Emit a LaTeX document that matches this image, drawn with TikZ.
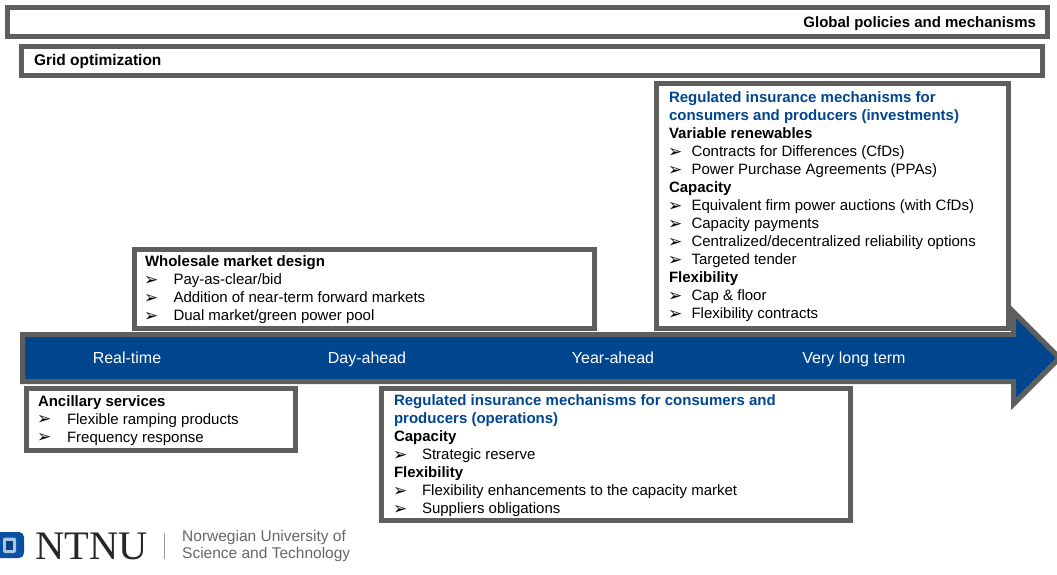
\documentclass[tikz,border=0pt]{standalone}
\usepackage{fontspec}
\setmainfont{Liberation Sans}
\newfontfamily\symf{DejaVu Sans}
\newfontfamily\serf{Liberation Serif}
\definecolor{ntblue}{HTML}{00468F}
\definecolor{ntgray}{HTML}{5E5E5E}
\definecolor{logoblue}{HTML}{0B4FA2}
\definecolor{logoring}{HTML}{A5C6E6}
\newcommand{\bul}[2][22.5]{\makebox[#1pt][l]{\hspace*{-1pt}\raisebox{-0.5pt}{\symf\fontsize{17}{18}\selectfont ➢}}#2}
\newcommand{\hd}[1]{\textbf{#1}}
\newcommand{\bl}[1]{\textcolor{ntblue}{\textbf{#1}}}
\tikzset{
  panel/.style={draw=ntgray,line width=5pt,fill=white,rectangle,inner sep=0pt,outer sep=0pt},
  body/.style={align=left,anchor=north west,inner sep=0pt,outer sep=0pt,font=\fontsize{15}{18}\selectfont},
  bar/.style={inner sep=0pt,outer sep=0pt,text height=11pt,text depth=3pt,font=\fontsize{15}{18}\selectfont\bfseries},
  tick/.style={text=white,inner sep=0pt,text height=11.5pt,text depth=3.5pt,font=\fontsize{16}{18}\selectfont},
}
\begin{document}
\begin{tikzpicture}[x=1pt,y=-1pt]
\useasboundingbox (0,0) rectangle (1057,574);
% top bars
\node[panel,minimum width=1040pt,minimum height=29pt] (global) at (527,22) {};
\node[bar,anchor=east] (globaltxt) at (1036,23.5) {Global policies and mechanisms};
\node[panel,minimum width=1021pt,minimum height=29pt] (grid) at (532,60.5) {};
\node[bar,anchor=west,font=\fontsize{15.5}{18}\selectfont\bfseries] (gridtxt) at (34,61) {Grid optimization};
% timeline arrow
\draw[draw=ntgray,line width=5pt,fill=ntblue,miter limit=10]
  (22.5,334.5) -- (1013.5,334.5) -- (1013.5,312) -- (1059.5,358) -- (1013.5,404) -- (1013.5,381.5) -- (22.5,381.5) -- cycle;
\node[tick] (t1) at (127,359) {Real-time};
\node[tick] (t2) at (367,359) {Day-ahead};
\node[tick] (t3) at (613,359) {Year-ahead};
\node[tick] (t4) at (854,359) {Very long term};
% panels
\node[panel,minimum width=352pt,minimum height=245pt] (invest) at (832.5,206) {};
\node[body] (investtxt) at (669,92) {\bl{Regulated insurance mechanisms for}\\
\bl{consumers and producers (investments)}\\
\hd{Variable renewables}\\
\bul{Contracts for Differences (CfDs)}\\
\bul{Power Purchase Agreements (PPAs)}\\
\hd{Capacity}\\
\bul{Equivalent firm power auctions (with CfDs)}\\
\bul{Capacity payments}\\
\bul{Centralized/decentralized reliability options}\\
\bul{Targeted tender}\\
\hd{Flexibility}\\
\bul{Cap \& floor}\\
\bul{Flexibility contracts}};
\node[panel,minimum width=460pt,minimum height=79pt] (whole) at (364.5,289) {};
\node[body] (wholetxt) at (145,256) {\hd{Wholesale market design}\\
\bul[28.5]{Pay-as-clear/bid}\\
\bul[28.5]{Addition of near-term forward markets}\\
\bul[28.5]{Dual market/green power pool}};
\node[panel,minimum width=269pt,minimum height=62pt] (anc) at (161,419.5) {};
\node[body] (anctxt) at (38,395.5) {\hd{Ancillary services}\\
\bul[29]{Flexible ramping products}\\
\bul[29]{Frequency response}};
\node[panel,minimum width=469pt,minimum height=132pt] (oper) at (616,454.5) {};
\node[body] (opertxt) at (394,395) {\bl{Regulated insurance mechanisms for consumers and}\\
\bl{producers (operations)}\\
\hd{Capacity}\\
\bul[28]{Strategic reserve}\\
\hd{Flexibility}\\
\bul[28]{Flexibility enhancements to the capacity market}\\
\bul[28]{Suppliers obligations}};
% logo
\fill[logoblue] (0,532) -- (19,532) arc (-90:0:5) -- (24,553) arc (0:90:5) -- (0,558) -- cycle;
\fill[logoring,rounded corners=2pt] (3,537.5) rectangle (16,553);
\fill[logoblue!80!black] (6,541) rectangle (13,550);
\node[inner sep=0pt,anchor=west,text=black!85,font=\serf\fontsize{40.5}{40}\selectfont] (ntnu) at (35,546) {NTNU};
\draw[black!40,line width=0.7pt] (164,533) -- (164,559);
\node[inner sep=0pt,anchor=west,align=left,text=black!60,font=\fontsize{15.5}{17}\selectfont] (uni) at (182,546) {Norwegian University of\\Science and Technology};
\end{tikzpicture}
\end{document}
